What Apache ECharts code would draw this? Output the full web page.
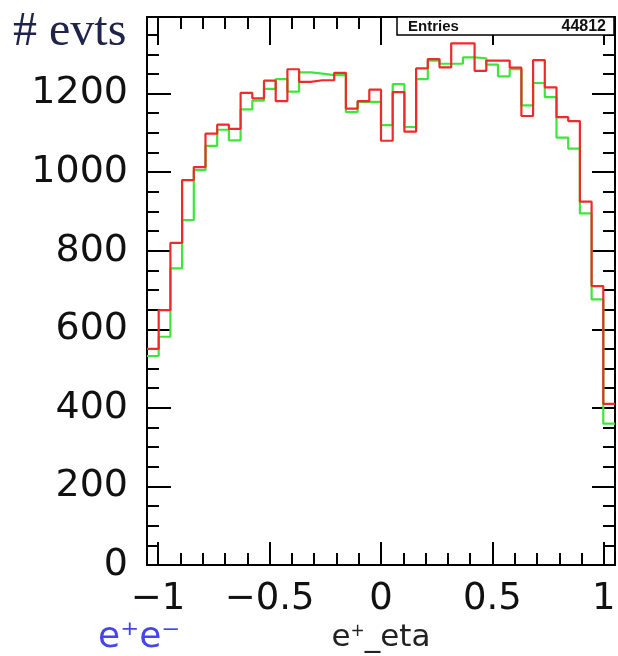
<!DOCTYPE html>
<html>
<head>
<meta charset="utf-8">
<script src="https://cdn.jsdelivr.net/npm/echarts@6.0.0/dist/echarts.min.js"></script>
<style>
  html, body { margin: 0; padding: 0; background: #fff; }
  #main { width: 618px; height: 656px; }
</style>
</head>
<body>
<div id="main"></div>
<script>
// histogram range, 40 bins from -1.05 to 1.05
var xMin = -1.05;
var xMax = 1.05;
var yMax = 1395;

// bin contents
var redCounts = [550, 649, 820, 980, 1013, 1098, 1121, 1110, 1202, 1188,
                 1233, 1181, 1262, 1230, 1234, 1234, 1253, 1162, 1181, 1210,
                 1080, 1204, 1103, 1264, 1288, 1267, 1328, 1328, 1258, 1284,
                 1284, 1266, 1143, 1285, 1216, 1140, 1130, 925, 710, 410];
var greenCounts = [532, 581, 755, 878, 1005, 1067, 1108, 1081, 1160, 1182,
                   1212, 1237, 1205, 1254, 1251, 1247, 1247, 1153, 1179, 1179,
                   1120, 1224, 1115, 1237, 1284, 1276, 1276, 1292, 1290, 1274,
                   1244, 1262, 1170, 1227, 1191, 1088, 1060, 895, 676, 360];

// ticks
var xMajorTicks = [-1, -0.5, 0, 0.5, 1];
var xMinorTicks = [-1, -0.9, -0.8, -0.7, -0.6, -0.5, -0.4, -0.3, -0.2, -0.1, 0,
                   0.1, 0.2, 0.3, 0.4, 0.5, 0.6, 0.7, 0.8, 0.9, 1];
var yMajorTicks = [0, 200, 400, 600, 800, 1000, 1200];
var yMinorTicks = [0, 50, 100, 150, 200, 250, 300, 350, 400, 450, 500, 550, 600, 650,
                   700, 750, 800, 850, 900, 950, 1000, 1050, 1100, 1150, 1200, 1250, 1300, 1350];

var entriesLabel = 'Entries';
var entriesValue = '44812';

function stepData(counts){
    var w = (xMax - xMin) / counts.length;
    var pts = [];
    for (var i = 0; i < counts.length; i++) {
        pts.push([xMin + i * w, counts[i]]);
    }
    pts.push([xMax, counts[counts.length - 1]]);
    return pts;
}

function minusFmt(v){
    return String(v).replace('-', '\u2212');
}

var frameLine = { show: true, onZero: false, lineStyle: { color: '#000', width: 2 } };
var noLine = { show: false, onZero: false };
var noSplit = { show: false };

function xAx(pos, ticks, len, line, labels){
    return {
        type: 'value', position: pos, min: xMin, max: xMax,
        axisLine: line ? frameLine : noLine,
        splitLine: noSplit,
        axisTick: { show: true, inside: true, length: len, customValues: ticks,
                    lineStyle: { color: '#000', width: 2 } },
        axisLabel: labels ? {
            show: true, customValues: xMajorTicks, formatter: minusFmt,
            fontFamily: 'DejaVu Sans', fontSize: 37, color: '#111', margin: 16
        } : { show: false }
    };
}
function yAx(pos, ticks, len, line, labels){
    return {
        type: 'value', position: pos, min: 0, max: yMax,
        axisLine: line ? frameLine : noLine,
        splitLine: noSplit,
        axisTick: { show: true, inside: true, length: len, customValues: ticks,
                    lineStyle: { color: '#000', width: 2 } },
        axisLabel: labels ? {
            show: true, customValues: yMajorTicks,
            formatter: function(v){ return String(v); },
            fontFamily: 'DejaVu Sans', fontSize: 38, color: '#111', margin: 19
        } : { show: false }
    };
}

var chart = echarts.init(document.getElementById('main'));

var xAxes = [
    xAx('bottom', xMajorTicks, 23, true, true),
    xAx('bottom', xMinorTicks, 12, false, false),
    xAx('top', xMajorTicks, 28, true, false),
    xAx('top', xMinorTicks, 12, false, false)
];
xAxes[0].name = 'e{sup|+}_eta';
xAxes[0].nameLocation = 'middle';
xAxes[0].nameGap = 57;
xAxes[0].nameTextStyle = {
    fontFamily: 'DejaVu Sans', fontSize: 31, color: '#222',
    rich: { sup: { fontFamily: 'DejaVu Sans', fontSize: 17, color: '#222', verticalAlign: 'top', padding: [0, 0, 14, 0] } }
};

var opt = {
    animation: false,
    backgroundColor: '#fff',
    grid: { left: 147, right: 3, top: 17, bottom: 91, containLabel: false, outerBoundsMode: 'none' },
    xAxis: xAxes,
    yAxis: [
        yAx('left', yMajorTicks, 24, true, true),
        yAx('left', yMinorTicks, 12, false, false),
        yAx('right', yMajorTicks, 23, true, false),
        yAx('right', yMinorTicks, 12, false, false)
    ],
    series: [
        {
            name: 'green', type: 'line', step: 'end', symbol: 'none',
            data: stepData(greenCounts),
            lineStyle: { color: '#3fe63a', width: 2.2 }, z: 3
        },
        {
            name: 'red', type: 'line', step: 'end', symbol: 'none',
            data: stepData(redCounts),
            lineStyle: { color: '#ef2a2a', width: 2.2 }, z: 4
        }
    ],
    graphic: [
        { type: 'text', left: 13, top: 8,
          style: { text: '# evts', fontFamily: 'Liberation Serif', fontSize: 48, fill: '#20244a' } },
        { type: 'rect', shape: { x: 397, y: 17, width: 217, height: 18 },
          style: { fill: '#fff', stroke: '#000', lineWidth: 1.5 }, z: 10 },
        { type: 'text', left: 408, top: 19, z: 11,
          style: { text: entriesLabel, fontFamily: 'Liberation Sans', fontWeight: 'bold', fontSize: 15, fill: '#111' } },
        { type: 'text', right: 12, top: 19, z: 11,
          style: { text: entriesValue, fontFamily: 'Liberation Sans', fontWeight: 'bold', fontSize: 16, fill: '#111' } },
        { type: 'text', left: 98, top: 620,
          style: { text: 'e\u207Ae\u207B', fontFamily: 'DejaVu Sans', fontSize: 36, fill: '#4545ee' } }
    ]
};
chart.setOption(opt);
</script>
</body>
</html>
